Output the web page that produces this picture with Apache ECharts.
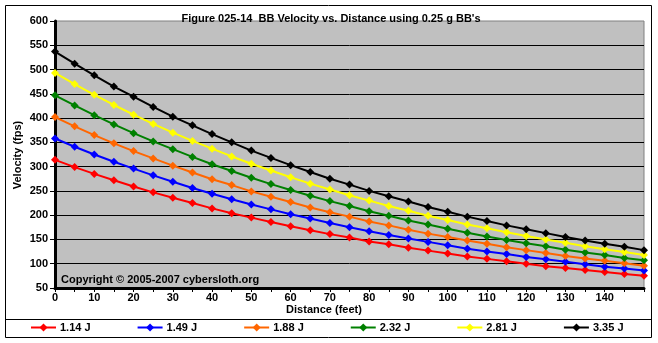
<!DOCTYPE html>
<html><head><meta charset="utf-8">
<script src="https://cdn.jsdelivr.net/npm/echarts@6/dist/echarts.min.js"></script>
<style>html,body{margin:0;padding:0;background:#fff}#c{width:658px;height:343px}</style>
</head><body><div id="c"></div>
<script>
var distances = [0,5,10,15,20,25,30,35,40,45,50,55,60,65,70,75,80,85,90,95,100,105,110,115,120,125,130,135,140,145,150];
var seriesNames = ['1.14 J','1.49 J','1.88 J','2.32 J','2.81 J','3.35 J'];
var seriesColors = ['#FF0000','#0000FF','#FF6600','#008000','#FFFF00','#000000'];
var v114 = [314,299,285,272,259,247,236,225,214,204,195,186,177,169,161,154,146,140,133,127,121,115,110,105,100,95,91,87,83,79,75];
var v149 = [358,341,325,310,296,282,269,256,244,233,222,212,202,193,184,175,167,159,152,145,138,131,125,120,114,109,104,99,94,90,86];
var v188 = [402,383,365,348,332,317,302,288,274,262,249,238,227,216,206,197,187,179,170,162,155,148,141,134,128,122,116,111,106,101,96];
var v232 = [447,426,406,387,369,352,336,320,305,291,277,264,252,240,229,219,208,199,189,181,172,164,156,149,142,136,129,123,118,112,107];
var v281 = [493,470,448,427,407,388,370,353,337,321,306,292,278,265,253,241,230,219,209,199,190,181,173,165,157,150,143,136,130,124,118];
var v335 = [537,512,488,465,444,423,403,385,367,350,333,318,303,289,275,263,250,239,228,217,207,197,188,179,171,163,155,148,141,135,128];
var seriesValues = [v114,v149,v188,v232,v281,v335];
var titleText = "Figure 025-14  BB Velocity vs. Distance using 0.25 g BB's";
var xName = 'Distance (feet)';
var yName = 'Velocity (fps)';
var copyrightText = 'Copyright \u00A9 2005-2007 cybersloth.org';

var FF = '"Liberation Sans", Arial, sans-serif';
var chart = echarts.init(document.getElementById('c'), null, {renderer:'canvas'});
var series = seriesNames.map(function(n,i){
  return {
    name:n, type:'line', data: distances.map(function(d,j){return [d, seriesValues[i][j]];}),
    symbol:'diamond', symbolSize:8, showSymbol:true,
    lineStyle:{color:seriesColors[i], width:2},
    itemStyle:{color:seriesColors[i]},
    emphasis:{disabled:true}
  };
});
chart.setOption({
  animation:false,
  backgroundColor:'#ffffff',
  title:{text:titleText, left:326, top:8, textAlign:'center',
    textStyle:{fontFamily:FF, fontSize:11, fontWeight:'bold', color:'#000'}},
  grid:{left:55, top:21, right:14, bottom:55, show:true, backgroundColor:'#C0C0C0', borderColor:'#808080', borderWidth:1},
  xAxis:{type:'value', min:0, max:150, interval:5,
    axisLine:{show:true, onZero:false, lineStyle:{color:'#000', width:3}},
    axisTick:{show:true, length:4, lineStyle:{color:'#000', width:1}},
    axisLabel:{margin:4, fontFamily:FF, fontSize:11, fontWeight:'bold', color:'#000',
      formatter:function(v){return (v%10===0 && v<150)? String(v):'';}},
    splitLine:{show:false}},
  yAxis:{type:'value', min:50, max:600, interval:50,
    axisLine:{show:true, onZero:false, lineStyle:{color:'#000', width:3}},
    axisTick:{show:true, length:5, lineStyle:{color:'#000', width:1}},
    axisLabel:{margin:7, fontFamily:FF, fontSize:11, fontWeight:'bold', color:'#000'},
    splitLine:{show:true, showMinLine:false, showMaxLine:false, lineStyle:{color:'#000', width:1}}},
  legend:{data:seriesNames, left:30, top:322, padding:0, itemWidth:25, itemHeight:10, itemGap:46,
    textStyle:{fontFamily:FF, fontSize:11, fontWeight:'bold', color:'#000', padding:[0,0,0,-1]}},
  graphic:[
    {type:'rect', shape:{x:5.5, y:5.5, width:646, height:332}, style:{fill:null, stroke:'#000', lineWidth:1}, silent:true, z:-1},
    {type:'line', shape:{x1:5, y1:319.5, x2:652, y2:319.5}, style:{stroke:'#000', lineWidth:1}, silent:true},
    {type:'text', x:324, y:310, style:{text:xName, font:'bold 11px '+FF, fill:'#000', textAlign:'center', textVerticalAlign:'middle'}, silent:true},
    {type:'text', x:18, y:155, rotation:Math.PI/2, style:{text:yName, font:'bold 11px '+FF, fill:'#000', textAlign:'center', textVerticalAlign:'middle'}, silent:true},
    {type:'text', x:61, y:280, style:{text:copyrightText, font:'bold 11px '+FF, fill:'#000', textAlign:'left', textVerticalAlign:'middle'}, silent:true, z:10}
  ],
  series:series
});
</script></body></html>
